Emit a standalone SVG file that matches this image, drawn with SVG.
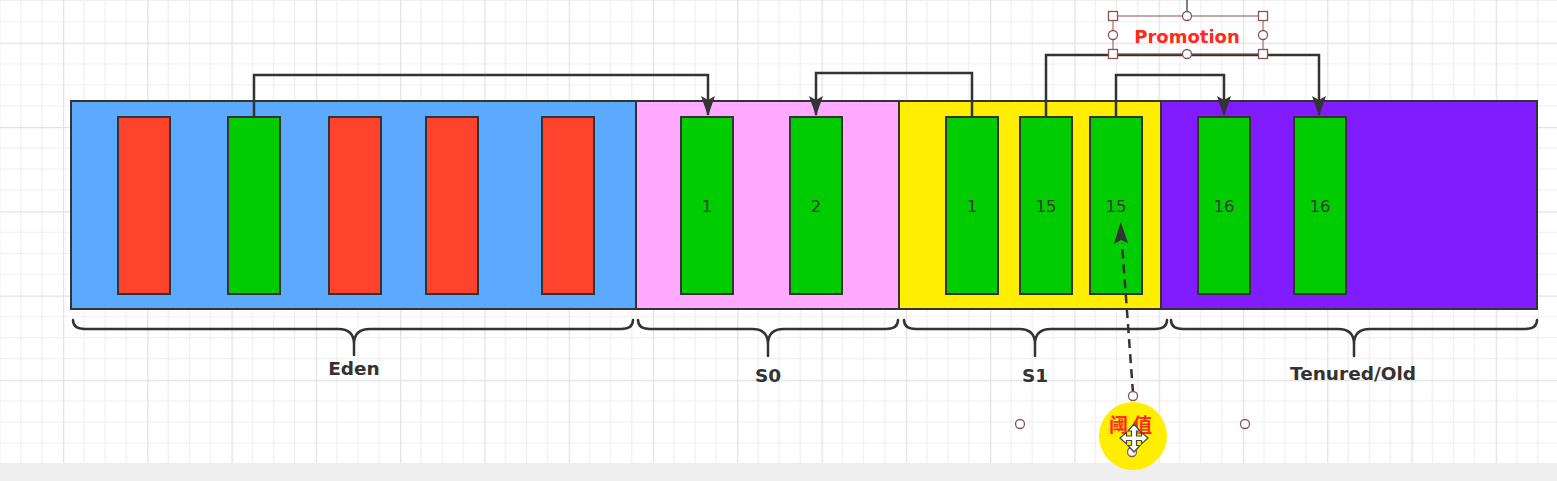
<svg xmlns="http://www.w3.org/2000/svg" width="1557" height="481" viewBox="0 0 1557 481">
<defs>
<pattern id="grid" patternUnits="userSpaceOnUse" x="62.96" y="42.7" width="84.28" height="84.28">
<path d="M21.07 0V84.28M42.14 0V84.28M63.21 0V84.28M0 21.07H84.28M0 42.14H84.28M0 63.21H84.28" stroke="#efefef" stroke-width="1.2" fill="none"/>
<path d="M0.6 0V84.28M0 0.6H84.28" stroke="#e2e2e2" stroke-width="1.3" fill="none"/>
</pattern>
<marker id="arr" viewBox="0 0 20 14" refX="19" refY="7" markerWidth="20" markerHeight="14" markerUnits="userSpaceOnUse" orient="auto">
<path d="M0 0L20 7L0 14L4 7Z" fill="#333"/>
</marker>
</defs>
<style>
.box{stroke:#333;stroke-width:2}
.cell{stroke:#333;stroke-width:2}
.red{fill:#ff432d}
.green{fill:#00cc00}
.num{font-family:"DejaVu Sans",sans-serif;font-size:16.5px;fill:#2f3f2f;text-anchor:middle}
.lbl{font-family:"DejaVu Sans",sans-serif;font-weight:bold;font-size:18.5px;fill:#333;text-anchor:middle}
.brace{fill:none;stroke:#333;stroke-width:2.5;stroke-linecap:round}
.conn{fill:none;stroke:#333;stroke-width:2.5}
.hs{fill:#fff;stroke:#8a5454;stroke-width:1.3}
</style>
<rect width="1557" height="481" fill="#fff"/>
<rect width="1557" height="463" fill="url(#grid)"/>
<rect y="463" width="1557" height="18" fill="#efefef"/>

<g id="eden">
<rect class="box" x="71" y="101" width="565" height="208" fill="#5baaff"/>
<rect class="cell red" x="118" y="117" width="52" height="177"/>
<rect class="cell green" x="228" y="117" width="52" height="177"/>
<rect class="cell red" x="329" y="117" width="52" height="177"/>
<rect class="cell red" x="426" y="117" width="52" height="177"/>
<rect class="cell red" x="542" y="117" width="52" height="177"/>
</g>
<g id="s0">
<rect class="box" x="636" y="101" width="263" height="208" fill="#ffaaff"/>
<rect class="cell green" x="681" y="117" width="52" height="177"/>
<text class="num" x="707" y="212">1</text>
<rect class="cell green" x="790" y="117" width="52" height="177"/>
<text class="num" x="816" y="212">2</text>
</g>
<g id="s1">
<rect class="box" x="899" y="101" width="262" height="208" fill="#ffee00"/>
<rect class="cell green" x="946" y="117" width="52" height="177"/>
<text class="num" x="972" y="212">1</text>
<rect class="cell green" x="1020" y="117" width="52" height="177"/>
<text class="num" x="1046" y="212">15</text>
<rect class="cell green" x="1090" y="117" width="52" height="177"/>
<text class="num" x="1116" y="212">15</text>
</g>
<g id="tenured">
<rect class="box" x="1161" y="101" width="376" height="208" fill="#801cff"/>
<rect class="cell green" x="1198" y="117" width="52" height="177"/>
<text class="num" x="1224" y="212">16</text>
<rect class="cell green" x="1294" y="117" width="52" height="177"/>
<text class="num" x="1320" y="212">16</text>
</g>

<g id="braces">
<path class="brace" d="M73 320Q73 329 85 329L338 329Q354 329 354 344L354 355M354 344Q354 329 370 329L621 329Q633 329 633 320"/>
<text class="lbl" x="354" y="375">Eden</text>
<path class="brace" d="M638 320Q638 329 650 329L752 329Q768 329 768 344L768 356M768 344Q768 329 784 329L886 329Q898 329 898 320"/>
<text class="lbl" x="768" y="382">S0</text>
<path class="brace" d="M904 320Q904 329 916 329L1019 329Q1035 329 1035 344L1035 356M1035 344Q1035 329 1051 329L1155 329Q1167 329 1167 320"/>
<text class="lbl" x="1035" y="382">S1</text>
<path class="brace" d="M1171 320Q1171 329 1183 329L1338 329Q1354 329 1354 344L1354 356M1354 344Q1354 329 1370 329L1525 329Q1537 329 1537 320"/>
<text class="lbl" x="1353" y="380">Tenured/Old</text>
</g>

<g id="connectors">
<path class="conn" d="M254 117V75H708V115" marker-end="url(#arr)"/>
<path class="conn" d="M972 117V73H816V115" marker-end="url(#arr)"/>
<path class="conn" d="M1046 117V55H1319V115" marker-end="url(#arr)"/>
<path class="conn" d="M1116 117V75H1224V115" marker-end="url(#arr)"/>
<path d="M1133 393L1122 243" fill="none" stroke="#333" stroke-width="2.5" stroke-dasharray="9 6"/>
<path d="M1120.7 222L1114 244L1121 240L1128 243Z" fill="#333"/>
</g>

<g id="promotion">
<line x1="1187" y1="0" x2="1187" y2="11" stroke="#555" stroke-width="1.5"/>
<rect x="1113" y="16" width="150" height="38" fill="none" stroke="#8a5454" stroke-width="1"/>
<text x="1187" y="43" font-family="DejaVu Sans,sans-serif" font-weight="bold" font-size="18px" fill="#ff2a1a" text-anchor="middle">Promotion</text>
<rect class="hs" x="1108.5" y="11.5" width="9" height="9"/>
<rect class="hs" x="1258.5" y="11.5" width="9" height="9"/>
<rect class="hs" x="1108.5" y="49.5" width="9" height="9"/>
<rect class="hs" x="1258.5" y="49.5" width="9" height="9"/>
<circle class="hs" cx="1187" cy="16" r="4.5"/>
<circle class="hs" cx="1113" cy="35" r="4.5"/>
<circle class="hs" cx="1263" cy="35" r="4.5"/>
<circle class="hs" cx="1187" cy="54" r="4.5"/>
</g>

<g id="threshold">
<circle cx="1133" cy="436" r="34" fill="#ffee00"/>
<text x="1133" y="432" font-family="Noto Sans CJK SC,sans-serif" font-weight="bold" font-size="19px" fill="#ff2a1a" text-anchor="middle" letter-spacing="5">阈值</text>
<circle class="hs" cx="1020" cy="424" r="4.5"/>
<circle class="hs" cx="1245" cy="424" r="4.5"/>
<circle class="hs" cx="1133" cy="396" r="4.5"/>
<circle class="hs" cx="1132" cy="452" r="4.5"/>
<path d="M1134 424L1140 431H1136.5V436H1141.5V432.5L1148 438L1141.5 444V440.5H1136.5V445.5H1140L1134 452L1128 445.5H1131.5V440.5H1126.5V444L1120 438L1126.5 432.5V436H1131.5V431H1128Z" fill="#fff" stroke="#444" stroke-width="1.2"/>
</g>
</svg>
